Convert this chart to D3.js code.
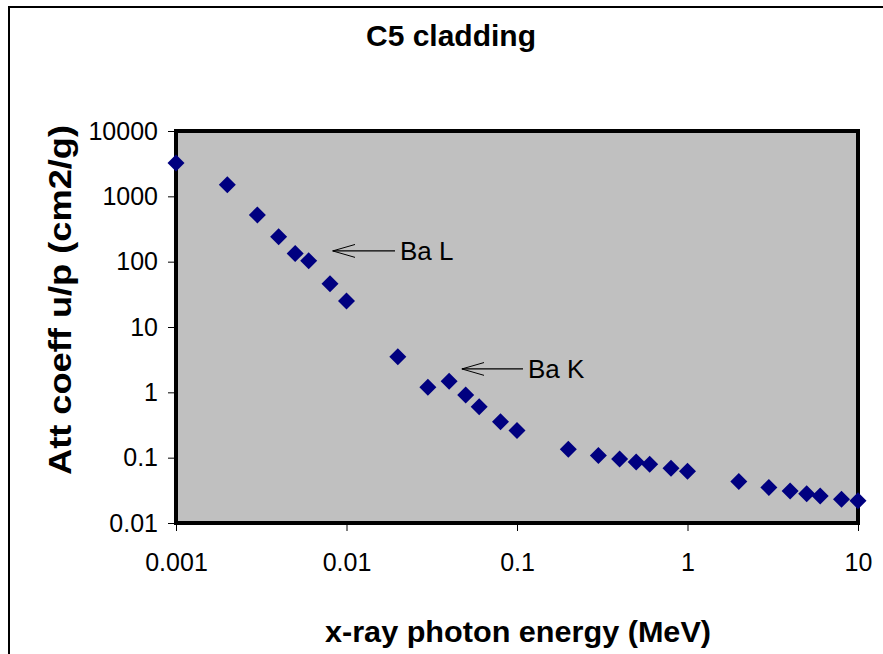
<!DOCTYPE html>
<html>
<head>
<meta charset="utf-8">
<script src="https://cdn.jsdelivr.net/npm/d3@7"></script>
<style>
body { margin: 0; background: #fff; }
svg text { font-family: "Liberation Sans", Arial, sans-serif; }
.axis path { display: none; }
.axis line { stroke: #000; }
.axis text { font-size: 25px; fill: #000; }
</style>
</head>
<body>
<script>
// photon energy (MeV) and attenuation coefficient (cm2/g)
var energy = [0.001, 0.002, 0.003, 0.004, 0.005, 0.006, 0.008, 0.01, 0.02, 0.03, 0.04, 0.05, 0.06, 0.08, 0.1,
	0.2, 0.3, 0.4, 0.5, 0.6, 0.8, 1, 2, 3, 4, 5, 6, 8, 10];
var attCoeff = [3250, 1500, 520, 240, 133, 103, 46, 25, 3.5, 1.2, 1.48, 0.91, 0.6, 0.355, 0.26,
	0.135, 0.108, 0.095, 0.086, 0.079, 0.069, 0.062, 0.043, 0.035, 0.031, 0.028, 0.026, 0.023, 0.022];
var xTicks = [0.001, 0.01, 0.1, 1, 10];
var yTicks = [0.01, 0.1, 1, 10, 100, 1000, 10000];
var notes = [{label: "Ba L", x: 0.0083, y: 146, x2: 0.0206}, {label: "Ba K", x: 0.0475, y: 2.28, x2: 0.116}];

var width = 883, height = 654;
var margin = {left: 176, right: 25, top: 131, bottom: 131};

var svg = d3.select("body").append("svg")
	.attr("width", width)
	.attr("height", height);

svg.append("defs").append("marker")
	.attr("id", "arrow")
	.attr("viewBox", "0 0 23 14")
	.attr("refX", 22.5).attr("refY", 7)
	.attr("markerWidth", 23).attr("markerHeight", 14)
	.attr("markerUnits", "userSpaceOnUse")
	.attr("orient", "auto")
	.append("path")
	.attr("d", "M0,0.5 L22.5,7 L0,13.5")
	.attr("fill", "none").attr("stroke", "#000").attr("stroke-width", 1);

// outer chart frame
svg.append("rect")
	.attr("x", 9).attr("y", 7)
	.attr("width", width).attr("height", height)
	.attr("fill", "none").attr("stroke", "#000").attr("stroke-width", 2);

var x = d3.scaleLog().domain([0.001, 10]).range([margin.left, width - margin.right]);
var y = d3.scaleLog().domain([0.01, 10000]).range([height - margin.bottom, margin.top]);

svg.append("rect")
	.attr("x", x(0.001)).attr("y", y(10000))
	.attr("width", x(10) - x(0.001))
	.attr("height", y(0.01) - y(10000))
	.attr("fill", "#c0c0c0")
	.attr("stroke", "#000").attr("stroke-width", 4);

svg.append("g")
	.attr("class", "axis")
	.attr("transform", "translate(" + (x(0.001) - 2) + ",0)")
	.call(d3.axisLeft(y).tickValues(yTicks).tickSize(6).tickPadding(10))
	.selectAll("text").text(function(d) { return String(d); });

svg.append("g")
	.attr("class", "axis")
	.attr("transform", "translate(0," + (y(0.01) + 2) + ")")
	.call(d3.axisBottom(x).tickValues(xTicks).tickSize(6).tickPadding(22))
	.selectAll("text").text(function(d) { return String(d); });

svg.selectAll(".pt")
	.data(energy)
	.enter().append("path")
	.attr("class", "pt")
	.attr("d", "M0,-8.5 L8.5,0 L0,8.5 L-8.5,0 Z")
	.attr("fill", "#000080")
	.attr("transform", function(d, i) { return "translate(" + x(d) + "," + y(attCoeff[i]) + ")"; });

var note = svg.selectAll(".note").data(notes).enter().append("g").attr("class", "note");
note.append("path")
	.attr("d", function(d) { return "M" + (x(d.x2) - 5) + "," + y(d.y) + "L" + x(d.x) + "," + y(d.y); })
	.attr("fill", "none").attr("stroke", "#000").attr("stroke-width", 1.2)
	.attr("marker-end", "url(#arrow)");
note.append("text")
	.attr("x", function(d) { return x(d.x2); })
	.attr("y", function(d) { return y(d.y) + 9; })
	.attr("font-size", 26)
	.text(function(d) { return d.label; });

svg.append("text")
	.attr("x", 451).attr("y", 46)
	.attr("text-anchor", "middle")
	.attr("font-size", 30).attr("font-weight", "bold")
	.text("C5 cladding");

svg.append("text")
	.attr("x", 518).attr("y", 642)
	.attr("text-anchor", "middle")
	.attr("font-size", 30).attr("font-weight", "bold")
	.attr("textLength", 386).attr("lengthAdjust", "spacingAndGlyphs")
	.text("x-ray photon energy (MeV)");

svg.append("text")
	.attr("transform", "translate(71,300) rotate(-90)")
	.attr("text-anchor", "middle")
	.attr("font-size", 32).attr("font-weight", "bold")
	.attr("textLength", 350).attr("lengthAdjust", "spacingAndGlyphs")
	.text("Att coeff u/p (cm2/g)");
</script>
</body>
</html>
